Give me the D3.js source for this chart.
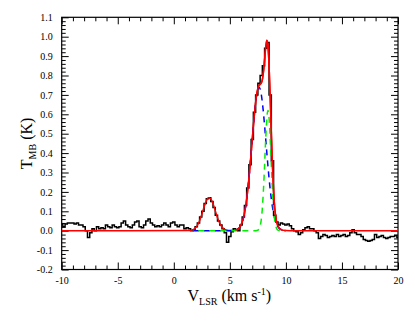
<!DOCTYPE html>
<html>
<head>
<meta charset="utf-8">
<script src="https://cdn.jsdelivr.net/npm/d3@7"></script>
<style>
  html, body { margin: 0; padding: 0; background: #fff; }
  svg { display: block; }
  text { font-family: "Liberation Serif", "Times New Roman", serif; fill: #000; }
</style>
</head>
<body>
<svg id="chart" width="415" height="324"></svg>
<script>
// ---- data ----
// observed spectrum, channel velocities from -10 to 20 km/s in 0.2 km/s steps
const specStart = -10, specStep = 0.2;
const specT = [
  0.035, 0.02, 0.035, 0.04, 0.04, 0.04, 0.035, 0.04, 0.03, 0.03,
  0.02, 0.0, -0.035, -0.01, 0.01, 0.0, 0.02, 0.01, 0.015, 0.01,
  0.03, 0.02, 0.015, 0.03, 0.02, 0.015, 0.02, 0.04, 0.05, 0.03,
  0.02, 0.015, 0.03, 0.045, 0.05, 0.02, 0.015, 0.03, 0.05, 0.06,
  0.04, 0.03, 0.02, 0.025, 0.02, 0.03, 0.04, 0.03, 0.02, 0.04,
  0.045, 0.03, 0.02, 0.03, 0.03, 0.01, 0.015, 0.01, 0.0, 0.005,
  0.02, 0.04, 0.07, 0.10, 0.14, 0.165, 0.17, 0.15, 0.12, 0.08,
  0.05, 0.03, 0.01, -0.01, -0.06, -0.03, -0.005, 0.01, 0.005, 0.0,
  0.03, 0.07, 0.13, 0.22, 0.34, 0.47, 0.61, 0.70, 0.76, 0.80,
  0.85, 0.94, 0.97, 0.70, 0.36, 0.08, 0.045, 0.03, 0.04, 0.035,
  0.03, 0.035, 0.025, 0.01, 0.0, -0.005, -0.02, -0.01, 0.005, 0.015,
  0.02, 0.01, 0.01, 0.0, -0.01, -0.04, -0.03, -0.02, -0.025, -0.035,
  -0.03, -0.025, -0.03, -0.02, -0.03, -0.025, -0.02, -0.03, -0.025, -0.01,
  0.005, -0.01, -0.02, -0.02, -0.03, -0.045, -0.05, -0.055, -0.05, -0.045,
  -0.02, -0.035, -0.03, -0.025, -0.035, -0.04, -0.035, -0.03, -0.03, -0.025,
  -0.035
];

// total fit (red)
const fitV = [-10, 1.3, 1.5, 1.7, 1.9, 2.1, 2.3, 2.5, 2.7, 2.9, 3.1, 3.3, 3.5, 3.7, 3.9, 4.1, 4.3, 4.5, 4.7, 4.9, 5.1, 5.3,
  5.5, 5.6, 5.7, 5.8, 5.9, 6.0, 6.1, 6.2, 6.3, 6.4, 6.5, 6.6, 6.7, 6.8, 6.9, 7.0, 7.1, 7.2, 7.3, 7.4, 7.5, 7.6, 7.7, 7.8, 7.9,
  8.0, 8.1, 8.2, 8.3, 8.4, 8.5, 8.6, 8.7, 8.8, 8.9, 9.0, 9.1, 9.2, 9.3, 9.4, 9.5, 9.6, 9.7, 9.8, 9.9, 10.0, 10.4, 20];
const fitT = [0, 0.0006, 0.0019, 0.0050, 0.0130, 0.0275, 0.0515, 0.0846, 0.1217, 0.1533, 0.1693, 0.1638, 0.1388, 0.1031, 0.0671, 0.0383, 0.0191, 0.0084, 0.0032, 0.0012, 0.0007, 0.0011,
  0.0030, 0.0050, 0.0081, 0.0129, 0.0200, 0.0302, 0.0444, 0.0638, 0.0895, 0.1223, 0.1631, 0.2120, 0.2689, 0.3325, 0.4011, 0.4718, 0.5414, 0.6059, 0.6615, 0.7047, 0.7336, 0.7487, 0.7544, 0.7601, 0.7784,
  0.8193, 0.8817, 0.9467, 0.9811, 0.9525, 0.8489, 0.6869, 0.5034, 0.3357, 0.2066, 0.1200, 0.0680, 0.0389, 0.0228, 0.0137, 0.0083, 0.0050, 0.0030, 0.0017, 0.0010, 0.0006, 0.0001, 0];

// broad component (blue dashed)
const blueV = [1.7, 5.0, 5.2, 5.3, 5.4, 5.5, 5.6, 5.7, 5.8, 5.9, 6.0, 6.1, 6.2, 6.3, 6.4, 6.5, 6.6, 6.7, 6.8, 6.9, 7.0, 7.1, 7.2, 7.3, 7.4, 7.5, 7.6,
  7.7, 7.8, 7.9, 8.0, 8.1, 8.2, 8.3, 8.4, 8.5, 8.6, 8.7, 8.8, 8.9, 9.0, 9.1, 9.2, 9.3, 9.4, 9.5, 9.6, 9.7, 9.8, 9.9, 10.0];
const blueT = [0, 0.0002, 0.0006, 0.0010, 0.0017, 0.0030, 0.0050, 0.0081, 0.0129, 0.0200, 0.0302, 0.0444, 0.0638, 0.0895, 0.1223, 0.1631, 0.2120, 0.2689, 0.3325, 0.4011, 0.4718, 0.5414, 0.6059, 0.6613, 0.7039, 0.7308, 0.74,
  0.7308, 0.7039, 0.6613, 0.6059, 0.5414, 0.4718, 0.4011, 0.3325, 0.2689, 0.2120, 0.1631, 0.1223, 0.0895, 0.0638, 0.0444, 0.0302, 0.0200, 0.0129, 0.0081, 0.0050, 0.0030, 0.0017, 0.0010, 0.0006];

// narrow component (green dashed)
const greenV = [1.7, 7.2, 7.3, 7.4, 7.5, 7.6, 7.7, 7.8, 7.9, 8.0, 8.1, 8.2, 8.3, 8.4, 8.5, 8.6, 8.7, 8.8, 8.9, 9.0, 9.1, 9.2, 9.3, 9.4, 9.5, 10.0];
const greenT = [0, 0, 0.0002, 0.0008, 0.0028, 0.0087, 0.0236, 0.0562, 0.1171, 0.2134, 0.3403, 0.4749, 0.5800, 0.6200, 0.5800, 0.4749, 0.3403, 0.2134, 0.1171, 0.0562, 0.0236, 0.0087, 0.0028, 0.0008, 0.0002, 0];

const xTicks = [-10, -5, 0, 5, 10, 15, 20];
const yTicks = [-0.2, -0.1, 0.0, 0.1, 0.2, 0.3, 0.4, 0.5, 0.6, 0.7, 0.8, 0.9, 1.0, 1.1];

// ---- drawing ----
const svg = d3.select("#chart");
const L = 61.7, R = 398, T = 17.3, B = 269.5;
const x = d3.scaleLinear().domain([-10, 20]).range([L, R]);
const y = d3.scaleLinear().domain([-0.2, 1.1]).range([B, T]);

const spec = specT.map((t, i) => ({ v: specStart + i * specStep, t }));
const fit = fitV.map((v, i) => ({ v, t: fitT[i] }));
const blue = blueV.map((v, i) => ({ v, t: blueT[i] }));
const green = greenV.map((v, i) => ({ v, t: greenT[i] }));

const lineSpec = d3.line().x(d => x(d.v)).y(d => y(d.t)).curve(d3.curveStep);
const lineSmooth = d3.line().x(d => x(d.v)).y(d => y(d.t)).curve(d3.curveMonotoneX);

const minorX = d3.range(-10, 20.001, 1).filter(v => Math.abs(v % 5) > 1e-6);
const minorY = d3.range(-20, 111, 2).map(v => v / 100).filter(v => Math.abs(Math.round(v * 100) % 10) !== 0);

function styleAxis(g) {
  g.select(".domain").remove();
  g.selectAll(".tick line").attr("stroke", "#000").attr("stroke-width", 1);
  g.selectAll(".tick text").attr("font-size", 10).attr("font-family", '"Liberation Serif", "Times New Roman", serif').attr("fill", "#000");
}

// bottom
svg.append("g").attr("transform", `translate(0,${B})`)
  .call(d3.axisBottom(x).tickValues(xTicks).tickSize(-7).tickPadding(7).tickFormat(d => String(d)))
  .call(styleAxis);
svg.append("g").attr("transform", `translate(0,${B})`)
  .call(d3.axisBottom(x).tickValues(minorX).tickSize(-4).tickFormat(""))
  .call(styleAxis);
// top
svg.append("g").attr("transform", `translate(0,${T})`)
  .call(d3.axisTop(x).tickValues(xTicks).tickSize(-7).tickFormat(""))
  .call(styleAxis);
svg.append("g").attr("transform", `translate(0,${T})`)
  .call(d3.axisTop(x).tickValues(minorX).tickSize(-4).tickFormat(""))
  .call(styleAxis);
// left
svg.append("g").attr("transform", `translate(${L},0)`)
  .call(d3.axisLeft(y).tickValues(yTicks).tickSize(-7).tickPadding(9).tickFormat(d => d.toFixed(1)))
  .call(styleAxis);
svg.append("g").attr("transform", `translate(${L},0)`)
  .call(d3.axisLeft(y).tickValues(minorY).tickSize(-4).tickFormat(""))
  .call(styleAxis);
// right
svg.append("g").attr("transform", `translate(${R},0)`)
  .call(d3.axisRight(y).tickValues(yTicks).tickSize(-7).tickFormat(""))
  .call(styleAxis);
svg.append("g").attr("transform", `translate(${R},0)`)
  .call(d3.axisRight(y).tickValues(minorY).tickSize(-4).tickFormat(""))
  .call(styleAxis);

// frame
svg.append("rect").attr("x", L).attr("y", T).attr("width", R - L).attr("height", B - T)
  .attr("fill", "none").attr("stroke", "#000").attr("stroke-width", 1.2);

// observed spectrum
svg.append("path").datum(spec).attr("d", lineSpec)
  .attr("fill", "none").attr("stroke", "#000").attr("stroke-width", 1.5);
// total fit (full range)
svg.append("path").datum(fit).attr("d", lineSmooth)
  .attr("fill", "none").attr("stroke", "#ff0000").attr("stroke-width", 1.5);
// components
svg.append("path").datum(blue).attr("d", lineSmooth)
  .attr("fill", "none").attr("stroke", "#0000ff").attr("stroke-width", 1.5)
  .attr("stroke-dasharray", "6,5");
svg.append("path").datum(green).attr("d", lineSmooth)
  .attr("fill", "none").attr("stroke", "#00ee00").attr("stroke-width", 1.5)
  .attr("stroke-dasharray", "6,5").attr("stroke-dashoffset", 5.5);
// total fit over main line, drawn on top
svg.append("path").datum(fit.filter(d => d.v >= 5.5 && d.v <= 10.0)).attr("d", lineSmooth)
  .attr("fill", "none").attr("stroke", "#ff0000").attr("stroke-width", 1.5);

// axis titles
const xt = svg.append("text").attr("x", (L + R) / 2 - 0.5).attr("y", 301).attr("text-anchor", "middle").attr("font-size", 16);
xt.append("tspan").text("V");
xt.append("tspan").attr("font-size", 10).attr("dy", 4).text("LSR");
xt.append("tspan").attr("dy", -4).text(" (km s");
xt.append("tspan").attr("font-size", 10).attr("dy", -6).text("-1");
xt.append("tspan").attr("dy", 6).text(")");

const yt = svg.append("text").attr("transform", `translate(32,${(T + B) / 2}) rotate(-90)`)
  .attr("text-anchor", "middle").attr("font-size", 16);
yt.append("tspan").text("T");
yt.append("tspan").attr("font-size", 10).attr("dy", 4).text("MB");
yt.append("tspan").attr("dy", -4).text(" (K)");
</script>
</body>
</html>
